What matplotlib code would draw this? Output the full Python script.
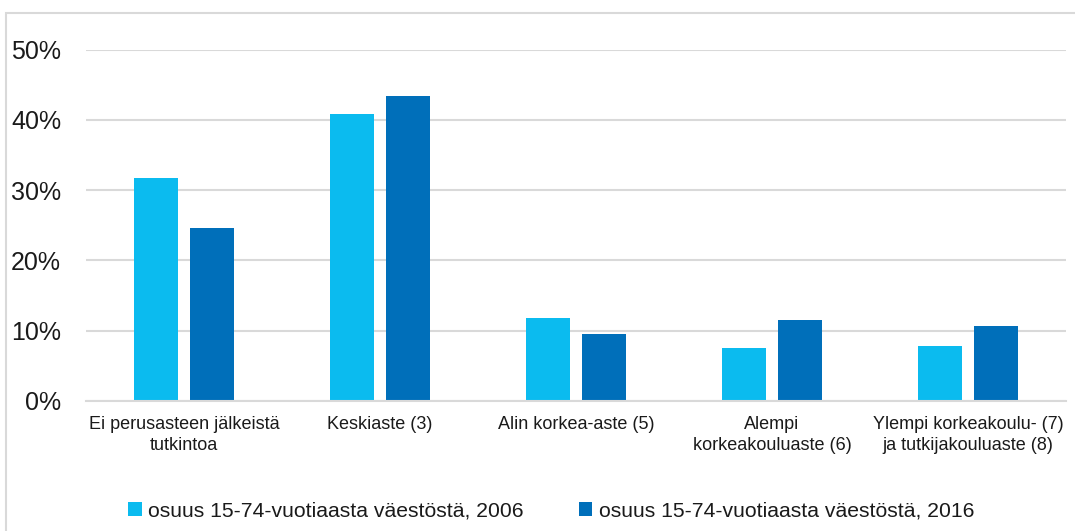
import matplotlib.pyplot as plt
import matplotlib.patches as patches
import numpy as np
from matplotlib.ticker import PercentFormatter

categories = [
    "Ei perusasteen jälkeistä\ntutkintoa",
    "Keskiaste (3)",
    "Alin korkea-aste (5)",
    "Alempi\nkorkeakouluaste (6)",
    "Ylempi korkeakoulu- (7)\nja tutkijakouluaste (8)",
]
share_2006 = [0.317, 0.408, 0.118, 0.075, 0.078]
share_2016 = [0.246, 0.434, 0.095, 0.115, 0.107]
series_labels = [
    "osuus 15-74-vuotiaasta väestöstä, 2006",
    "osuus 15-74-vuotiaasta väestöstä, 2016",
]
yticks = [0, 0.1, 0.2, 0.3, 0.4, 0.5]

LIGHT = "#0BBBEF"
DARK = "#006FBA"
GRID = "#D9D9D9"

plt.rcParams["font.family"] = ["Liberation Sans", "DejaVu Sans"]

fig = plt.figure(figsize=(10.75, 5.31), dpi=100)
ax = fig.add_axes([86 / 1075, 130 / 531, 980 / 1075, 351.5 / 531])

x = np.arange(len(categories))
w = 0.2245
off = 0.143
ax.bar(x - off, share_2006, w, color=LIGHT, label=series_labels[0], zorder=3)
ax.bar(x + off, share_2016, w, color=DARK, label=series_labels[1], zorder=3)

ax.set_xlim(-0.5, len(categories) - 0.5)
ax.set_ylim(0, 0.5)
ax.set_yticks(yticks)
ax.yaxis.set_major_formatter(PercentFormatter(1.0, decimals=0))
ax.grid(axis="y", color=GRID, linewidth=1.5, zorder=0)
ax.set_xticks(x)
ax.set_xticklabels(categories, fontsize=13, color="#1a1a1a", linespacing=1.3)

for s in ["top", "right", "left"]:
    ax.spines[s].set_visible(False)
ax.spines["bottom"].set_color(GRID)
ax.spines["bottom"].set_linewidth(1.5)
ax.spines["bottom"].set_zorder(4)
ax.tick_params(axis="x", length=0, pad=11)
ax.tick_params(axis="y", length=0, pad=18, labelsize=18, labelcolor="#1a1a1a")

# outer chart border (only top and left are visible in the frame)
fig.patches.append(patches.Rectangle(
    (6 / 1075, -0.1), 1.2, (531 - 12.7) / 531 + 0.1,
    transform=fig.transFigure, fill=False, edgecolor=GRID, linewidth=1.5))

fig.legend(loc="center", bbox_to_anchor=(551 / 1075, 20 / 531), ncol=2, frameon=False,
           fontsize=15.2, handlelength=0.65, handleheight=0.65, handletextpad=0.3,
           columnspacing=2.6, labelcolor="#1a1a1a")

fig.savefig("out.png", dpi=100)
